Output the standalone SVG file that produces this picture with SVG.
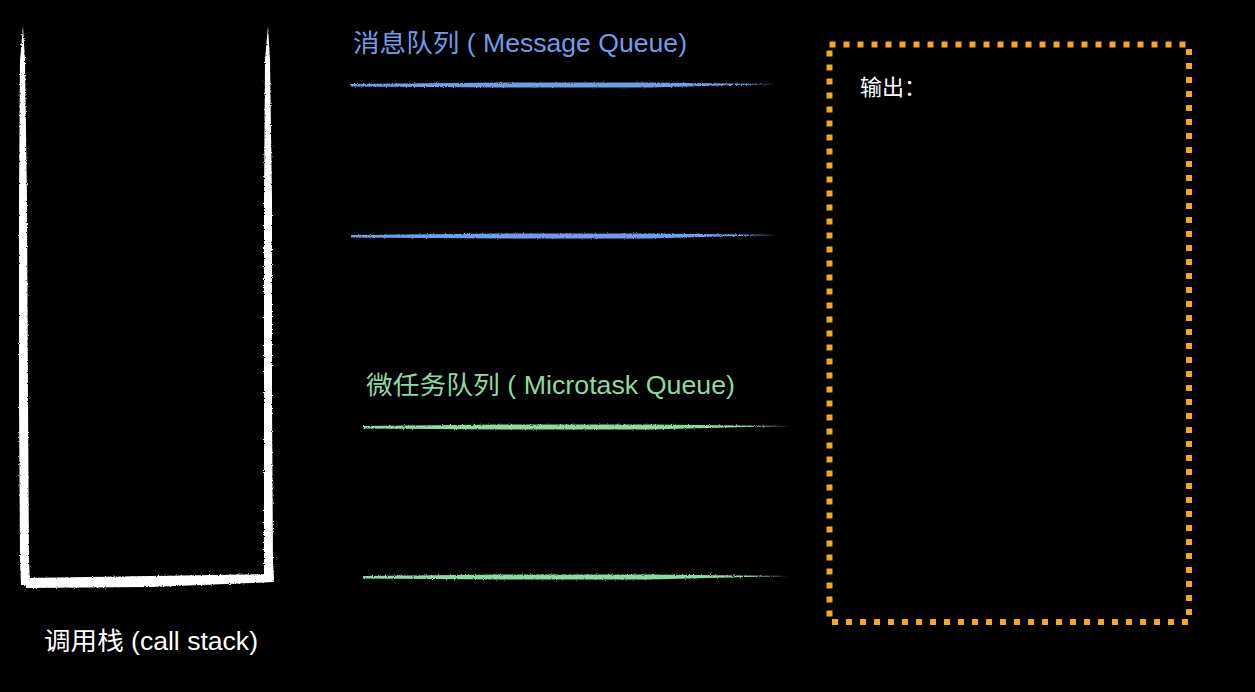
<svg xmlns="http://www.w3.org/2000/svg" width="1255" height="692" viewBox="0 0 1255 692">
<style>
.lbl{font-family:"Liberation Sans","Noto Sans CJK SC",sans-serif;font-size:25px}
.white{fill:#ffffff}
.blue{fill:#6f9de8}
.green{fill:#8bd9a4}
.brushW{fill:#ffffff}
.brushB{fill:#6f9de8}
.brushG{fill:#8bd9a4}
</style>
<defs>
<filter id="rough" x="-5%" y="-20%" width="110%" height="140%">
<feTurbulence type="fractalNoise" baseFrequency="0.9" numOctaves="2" seed="3" result="n"/>
<feDisplacementMap in="SourceGraphic" in2="n" scale="2.5"/>
</filter>
</defs>
<rect width="1255" height="692" fill="#000"/>
<g id="call-stack">
<g filter="url(#rough)">
<polygon class="brushW" points="23,26 25,60 27,200 28,400 29,560 30,585 21,585 20,560 19,400 19,200 20,60"/>
<polygon class="brushW" points="268,26 270,60 272,200 272,400 273,560 274,580 264,580 264,560 264,400 264,200 265,60"/>
<polygon class="brushW" points="25,578 150,576 272,574 274,582 150,587 26,588"/>
</g>
<text class="lbl white" x="44" y="650" textLength="214" lengthAdjust="spacingAndGlyphs">调用栈 (call stack)</text>
</g>
<g id="message-queue">
<text class="lbl blue" x="353" y="52" textLength="334" lengthAdjust="spacingAndGlyphs">消息队列 ( Message Queue)</text>
<g filter="url(#rough)">
<polygon class="brushB" points="351,84 500,82.5 650,82.5 776,84 650,87.5 500,87.5 351,86.5"/>
<polygon class="brushB" points="351,235 500,233.5 650,233.5 777,235 650,238.5 500,238.5 351,237.5"/>
</g>
</g>
<g id="microtask-queue">
<text class="lbl green" x="366" y="394" textLength="369" lengthAdjust="spacingAndGlyphs">微任务队列 ( Microtask Queue)</text>
<g filter="url(#rough)">
<polygon class="brushG" points="363,426 500,424.5 650,424.5 789,426 650,429.5 500,429.5 363,428.5"/>
<polygon class="brushG" points="363,576 500,574.5 650,574.5 789,576 650,579.5 500,579.5 363,578.5"/>
</g>
</g>
<g id="output">
<rect x="829.5" y="44.5" width="359.5" height="577.5" fill="none" stroke="#f5a623" stroke-width="6" stroke-dasharray="6 8"/>
<text class="lbl white" x="860" y="95" style="font-size:22px">输出：</text>
</g>
<g id="connectors"/>
</svg>
